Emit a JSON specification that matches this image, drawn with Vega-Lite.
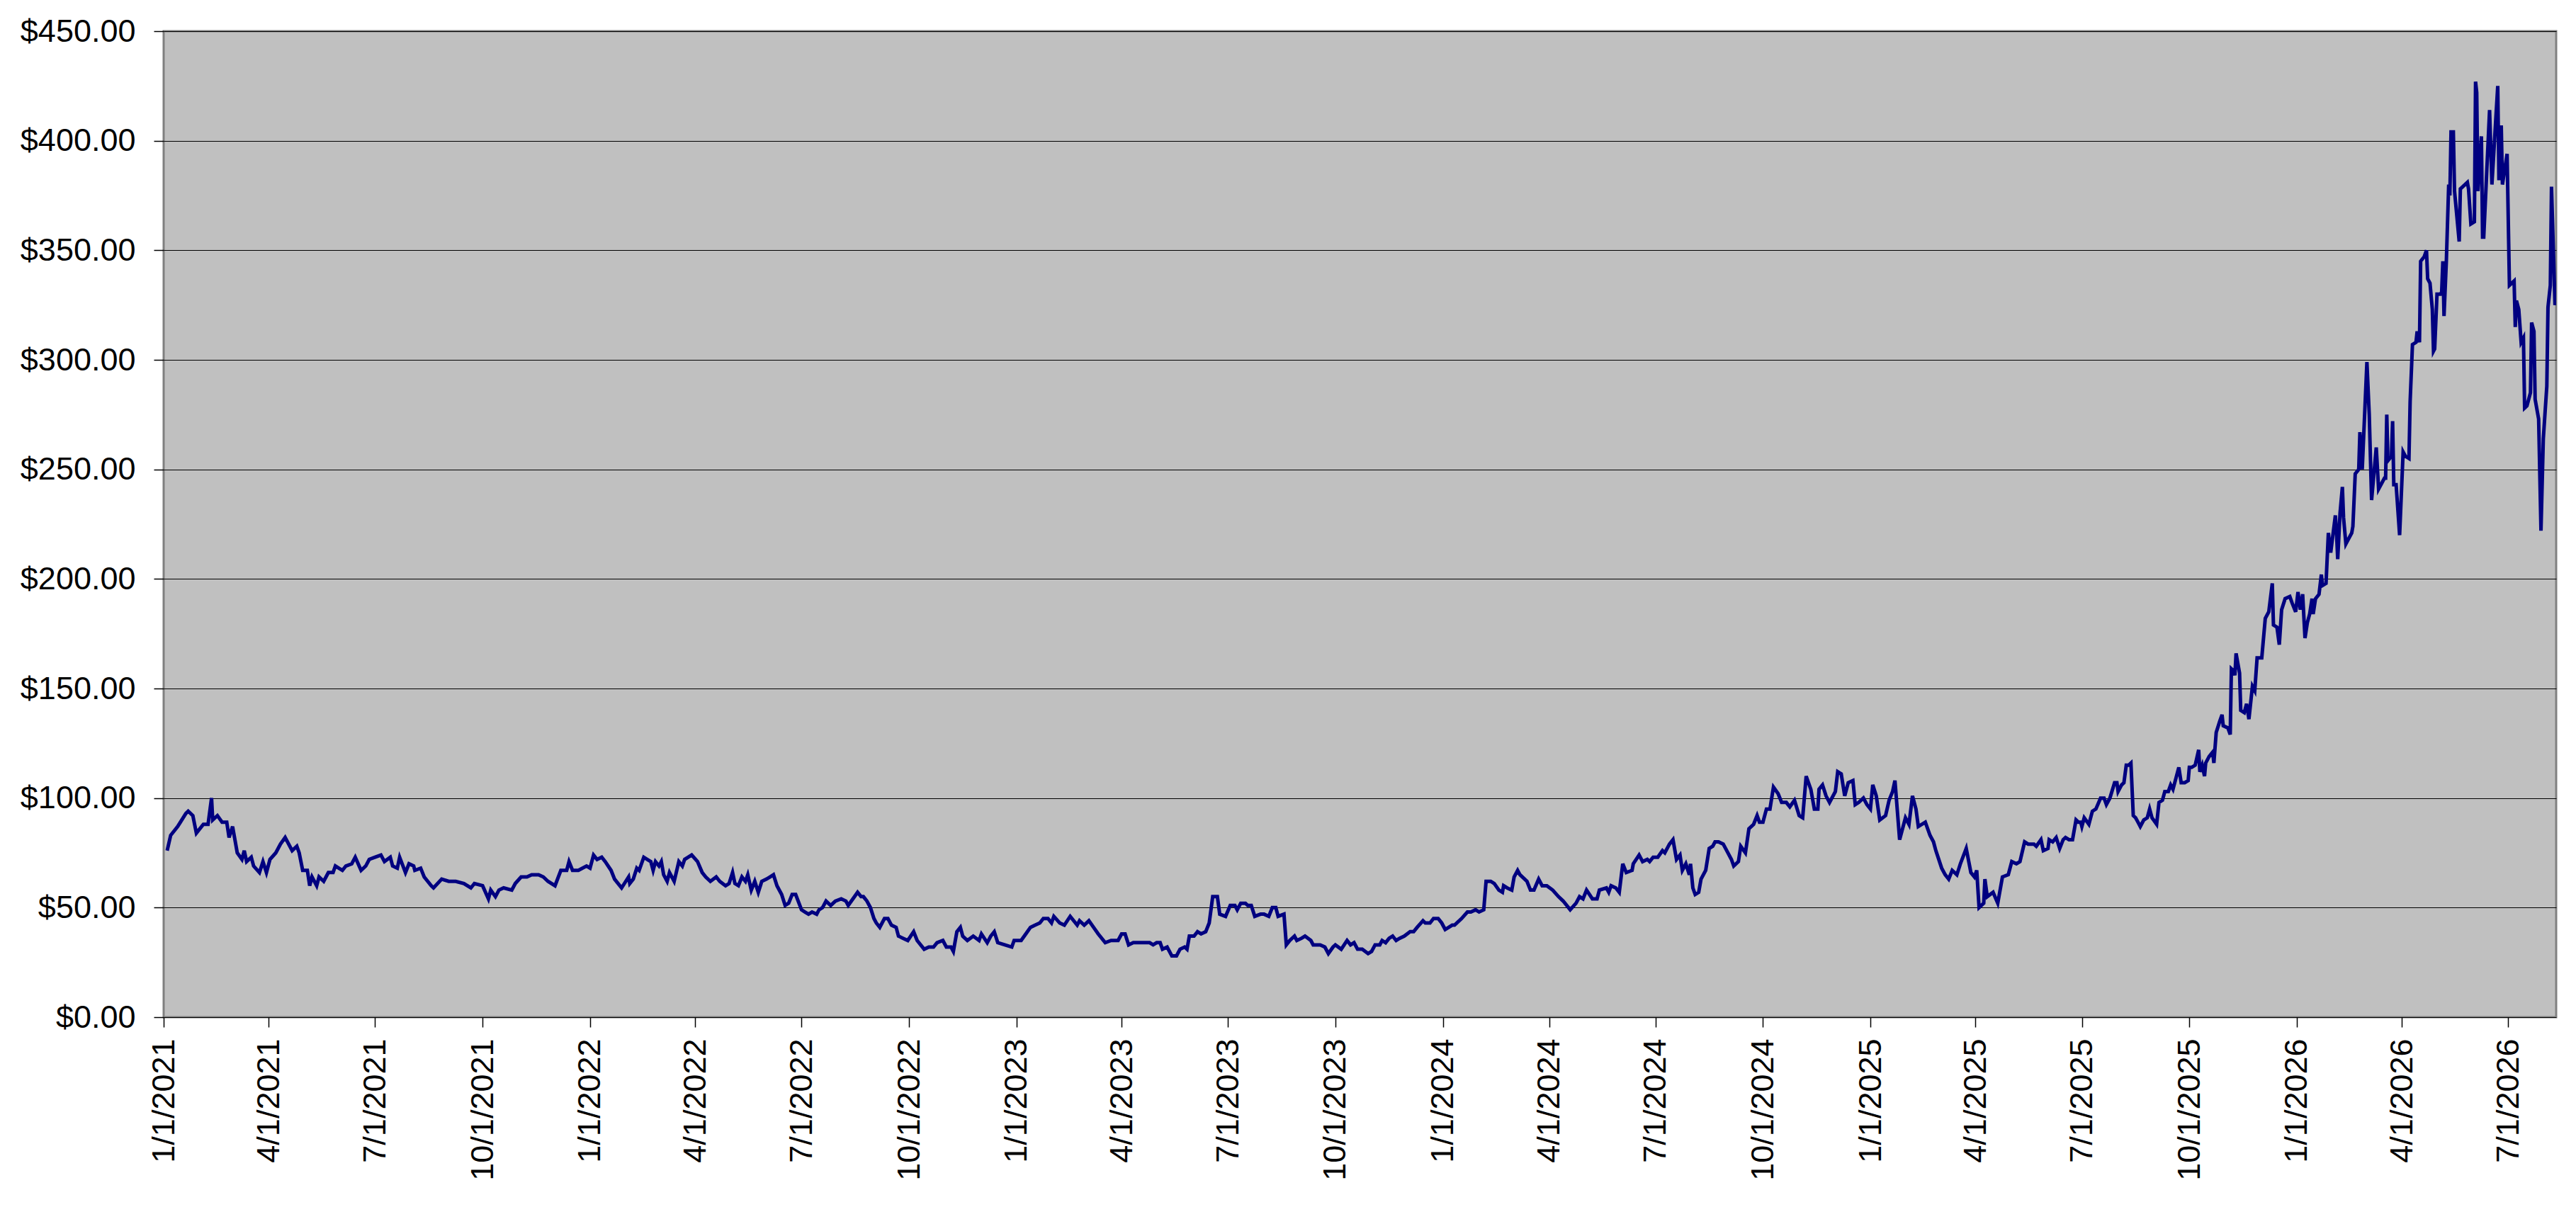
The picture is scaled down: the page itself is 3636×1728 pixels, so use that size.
{
"$schema": "https://vega.github.io/schema/vega-lite/v6.json",
"width": 3377,
"height": 1392,
"autosize": {"type": "none"},
"padding": {"left": 231, "top": 44, "right": 28, "bottom": 292},
"background": "white",
"config": {
  "view": {"fill": "#C0C0C0", "stroke": "#808080", "strokeWidth": 3},
  "font": "Liberation Sans",
  "axis": {"labelFont": "Liberation Sans", "labelColor": "black", "labelFontSize": 45, "labelLimit": 0, "tickColor": "black", "tickSize": 14, "tickWidth": 1.5, "domain": false, "title": null, "labelOverlap": false, "labelFlush": false}
},
"data": {"values": [
{"date":"2021-01-04","price":76},{"date":"2021-01-07","price":83},{"date":"2021-01-13","price":87},{"date":"2021-01-20","price":93},{"date":"2021-01-22","price":94},{"date":"2021-01-26","price":92},{"date":"2021-01-29","price":84},{"date":"2021-02-04","price":88},{"date":"2021-02-08","price":88},{"date":"2021-02-11","price":100},{"date":"2021-02-12","price":90},{"date":"2021-02-16","price":92},{"date":"2021-02-20","price":89},{"date":"2021-02-24","price":89},{"date":"2021-02-26","price":82},{"date":"2021-03-01","price":87},{"date":"2021-03-05","price":75},{"date":"2021-03-09","price":72},{"date":"2021-03-11","price":76},{"date":"2021-03-13","price":71},{"date":"2021-03-17","price":73},{"date":"2021-03-19","price":69},{"date":"2021-03-24","price":66},{"date":"2021-03-27","price":71},{"date":"2021-03-30","price":66},
{"date":"2021-04-02","price":72},{"date":"2021-04-07","price":75},{"date":"2021-04-11","price":79},{"date":"2021-04-15","price":82},{"date":"2021-04-21","price":76},{"date":"2021-04-25","price":78},{"date":"2021-04-27","price":75},{"date":"2021-04-30","price":67},{"date":"2021-05-04","price":67},{"date":"2021-05-06","price":60},{"date":"2021-05-08","price":64},{"date":"2021-05-12","price":60},{"date":"2021-05-14","price":64},{"date":"2021-05-18","price":62},{"date":"2021-05-22","price":66},{"date":"2021-05-26","price":66},{"date":"2021-05-28","price":69},{"date":"2021-06-03","price":67},{"date":"2021-06-06","price":69},{"date":"2021-06-11","price":70},{"date":"2021-06-14","price":73},{"date":"2021-06-19","price":67},{"date":"2021-06-23","price":69},{"date":"2021-06-26","price":72},
{"date":"2021-07-01","price":73},{"date":"2021-07-06","price":74},{"date":"2021-07-09","price":71},{"date":"2021-07-14","price":73},{"date":"2021-07-16","price":69},{"date":"2021-07-20","price":68},{"date":"2021-07-22","price":73},{"date":"2021-07-27","price":66},{"date":"2021-07-30","price":70},{"date":"2021-08-03","price":69},{"date":"2021-08-04","price":67},{"date":"2021-08-09","price":68},{"date":"2021-08-12","price":64},{"date":"2021-08-18","price":60},{"date":"2021-08-20","price":59},{"date":"2021-08-27","price":63},{"date":"2021-09-02","price":62},{"date":"2021-09-08","price":62},{"date":"2021-09-15","price":61},{"date":"2021-09-21","price":59},{"date":"2021-09-24","price":61},
{"date":"2021-10-01","price":60},{"date":"2021-10-06","price":54},{"date":"2021-10-08","price":58},{"date":"2021-10-12","price":55},{"date":"2021-10-15","price":58},{"date":"2021-10-19","price":59},{"date":"2021-10-26","price":58},{"date":"2021-10-29","price":61},{"date":"2021-11-03","price":64},{"date":"2021-11-08","price":64},{"date":"2021-11-12","price":65},{"date":"2021-11-18","price":65},{"date":"2021-11-22","price":64},{"date":"2021-11-26","price":62},{"date":"2021-12-02","price":60},{"date":"2021-12-07","price":67},{"date":"2021-12-12","price":67},{"date":"2021-12-14","price":71},{"date":"2021-12-17","price":67},{"date":"2021-12-22","price":67},{"date":"2021-12-29","price":69},
{"date":"2022-01-01","price":68},{"date":"2022-01-04","price":74},{"date":"2022-01-07","price":72},{"date":"2022-01-11","price":73},{"date":"2022-01-14","price":71},{"date":"2022-01-19","price":67},{"date":"2022-01-22","price":63},{"date":"2022-01-28","price":59},{"date":"2022-02-03","price":64},{"date":"2022-02-04","price":61},{"date":"2022-02-07","price":63},{"date":"2022-02-10","price":68},{"date":"2022-02-12","price":67},{"date":"2022-02-16","price":73},{"date":"2022-02-19","price":72},{"date":"2022-02-22","price":71},{"date":"2022-02-24","price":67},{"date":"2022-02-26","price":71},{"date":"2022-03-01","price":69},{"date":"2022-03-03","price":71},{"date":"2022-03-05","price":65},{"date":"2022-03-08","price":62},{"date":"2022-03-10","price":66},{"date":"2022-03-14","price":62},{"date":"2022-03-18","price":71},{"date":"2022-03-21","price":69},{"date":"2022-03-23","price":72},{"date":"2022-03-26","price":73},{"date":"2022-03-29","price":74},
{"date":"2022-04-03","price":71},{"date":"2022-04-07","price":66},{"date":"2022-04-10","price":64},{"date":"2022-04-14","price":62},{"date":"2022-04-19","price":64},{"date":"2022-04-22","price":62},{"date":"2022-04-27","price":60},{"date":"2022-04-30","price":61},{"date":"2022-05-03","price":66},{"date":"2022-05-05","price":61},{"date":"2022-05-08","price":60},{"date":"2022-05-11","price":64},{"date":"2022-05-14","price":62},{"date":"2022-05-16","price":65},{"date":"2022-05-19","price":58},{"date":"2022-05-22","price":62},{"date":"2022-05-25","price":57},{"date":"2022-05-28","price":62},{"date":"2022-06-01","price":63},{"date":"2022-06-04","price":64},{"date":"2022-06-07","price":65},{"date":"2022-06-10","price":60},{"date":"2022-06-14","price":56},{"date":"2022-06-17","price":51},{"date":"2022-06-20","price":52},{"date":"2022-06-23","price":56},{"date":"2022-06-26","price":56},
{"date":"2022-07-01","price":49},{"date":"2022-07-04","price":48},{"date":"2022-07-07","price":47},{"date":"2022-07-10","price":48},{"date":"2022-07-14","price":47},{"date":"2022-07-16","price":49},{"date":"2022-07-19","price":50},{"date":"2022-07-22","price":53},{"date":"2022-07-26","price":51},{"date":"2022-07-30","price":53},{"date":"2022-08-04","price":54},{"date":"2022-08-08","price":53},{"date":"2022-08-10","price":51},{"date":"2022-08-14","price":54},{"date":"2022-08-18","price":57},{"date":"2022-08-21","price":55},{"date":"2022-08-23","price":55},{"date":"2022-08-26","price":53},{"date":"2022-08-29","price":50},{"date":"2022-09-01","price":45},{"date":"2022-09-03","price":43},{"date":"2022-09-06","price":41},{"date":"2022-09-10","price":45},{"date":"2022-09-13","price":45},{"date":"2022-09-16","price":42},{"date":"2022-09-20","price":41},{"date":"2022-09-22","price":37},{"date":"2022-09-26","price":36},{"date":"2022-09-30","price":35},
{"date":"2022-10-05","price":39},{"date":"2022-10-08","price":35},{"date":"2022-10-14","price":31},{"date":"2022-10-18","price":32},{"date":"2022-10-22","price":32},{"date":"2022-10-25","price":34},{"date":"2022-10-30","price":35},{"date":"2022-11-02","price":32},{"date":"2022-11-06","price":32},{"date":"2022-11-08","price":30},{"date":"2022-11-11","price":39},{"date":"2022-11-14","price":41},{"date":"2022-11-16","price":37},{"date":"2022-11-20","price":35},{"date":"2022-11-25","price":37},{"date":"2022-11-30","price":35},{"date":"2022-12-02","price":38},{"date":"2022-12-07","price":34},{"date":"2022-12-10","price":37},{"date":"2022-12-13","price":39},{"date":"2022-12-16","price":34},{"date":"2022-12-22","price":33},{"date":"2022-12-28","price":32},{"date":"2022-12-30","price":35},
{"date":"2023-01-05","price":35},{"date":"2023-01-09","price":38},{"date":"2023-01-13","price":41},{"date":"2023-01-17","price":42},{"date":"2023-01-21","price":43},{"date":"2023-01-24","price":45},{"date":"2023-01-28","price":45},{"date":"2023-01-31","price":43},{"date":"2023-02-02","price":46},{"date":"2023-02-07","price":43},{"date":"2023-02-11","price":42},{"date":"2023-02-16","price":46},{"date":"2023-02-22","price":42},{"date":"2023-02-24","price":44},{"date":"2023-02-28","price":42},{"date":"2023-03-04","price":44},{"date":"2023-03-08","price":41},{"date":"2023-03-12","price":38},{"date":"2023-03-18","price":34},{"date":"2023-03-23","price":35},{"date":"2023-03-29","price":35},
{"date":"2023-04-01","price":38},{"date":"2023-04-04","price":38},{"date":"2023-04-07","price":33},{"date":"2023-04-11","price":34},{"date":"2023-04-17","price":34},{"date":"2023-04-22","price":34},{"date":"2023-04-25","price":34},{"date":"2023-04-28","price":33},{"date":"2023-05-01","price":34},{"date":"2023-05-04","price":34},{"date":"2023-05-06","price":31},{"date":"2023-05-10","price":32},{"date":"2023-05-14","price":28},{"date":"2023-05-18","price":28},{"date":"2023-05-21","price":31},{"date":"2023-05-25","price":32},{"date":"2023-05-27","price":31},{"date":"2023-05-29","price":37},{"date":"2023-06-02","price":37},{"date":"2023-06-05","price":39},{"date":"2023-06-08","price":38},{"date":"2023-06-12","price":39},{"date":"2023-06-15","price":43},{"date":"2023-06-18","price":55},{"date":"2023-06-22","price":55},{"date":"2023-06-24","price":47},{"date":"2023-06-29","price":46},
{"date":"2023-07-03","price":51},{"date":"2023-07-07","price":51},{"date":"2023-07-09","price":49},{"date":"2023-07-12","price":52},{"date":"2023-07-16","price":52},{"date":"2023-07-18","price":51},{"date":"2023-07-21","price":51},{"date":"2023-07-24","price":46},{"date":"2023-07-29","price":47},{"date":"2023-08-01","price":47},{"date":"2023-08-05","price":46},{"date":"2023-08-08","price":50},{"date":"2023-08-11","price":50},{"date":"2023-08-13","price":46},{"date":"2023-08-18","price":47},{"date":"2023-08-20","price":33},{"date":"2023-08-23","price":35},{"date":"2023-08-27","price":37},{"date":"2023-08-29","price":35},{"date":"2023-09-02","price":36},{"date":"2023-09-05","price":37},{"date":"2023-09-10","price":35},{"date":"2023-09-12","price":33},{"date":"2023-09-18","price":33},{"date":"2023-09-22","price":32},{"date":"2023-09-25","price":29},{"date":"2023-09-29","price":32},
{"date":"2023-10-01","price":33},{"date":"2023-10-06","price":31},{"date":"2023-10-11","price":35},{"date":"2023-10-14","price":33},{"date":"2023-10-17","price":34},{"date":"2023-10-20","price":31},{"date":"2023-10-24","price":31},{"date":"2023-10-29","price":29},{"date":"2023-11-01","price":30},{"date":"2023-11-04","price":33},{"date":"2023-11-08","price":33},{"date":"2023-11-10","price":35},{"date":"2023-11-13","price":34},{"date":"2023-11-16","price":36},{"date":"2023-11-19","price":37},{"date":"2023-11-22","price":35},{"date":"2023-11-25","price":36},{"date":"2023-11-29","price":37},{"date":"2023-12-04","price":39},{"date":"2023-12-07","price":39},{"date":"2023-12-10","price":41},{"date":"2023-12-15","price":44},{"date":"2023-12-17","price":43},{"date":"2023-12-21","price":43},{"date":"2023-12-24","price":45},{"date":"2023-12-28","price":45},{"date":"2023-12-31","price":43},
{"date":"2024-01-03","price":40},{"date":"2024-01-09","price":42},{"date":"2024-01-11","price":42},{"date":"2024-01-17","price":45},{"date":"2024-01-22","price":48},{"date":"2024-01-25","price":48},{"date":"2024-01-29","price":49},{"date":"2024-02-01","price":48},{"date":"2024-02-05","price":49},{"date":"2024-02-07","price":62},{"date":"2024-02-11","price":62},{"date":"2024-02-14","price":61},{"date":"2024-02-18","price":58},{"date":"2024-02-21","price":57},{"date":"2024-02-22","price":60},{"date":"2024-02-25","price":59},{"date":"2024-02-29","price":58},{"date":"2024-03-02","price":64},{"date":"2024-03-05","price":67},{"date":"2024-03-07","price":65},{"date":"2024-03-13","price":62},{"date":"2024-03-16","price":58},{"date":"2024-03-19","price":58},{"date":"2024-03-23","price":63},{"date":"2024-03-26","price":60},{"date":"2024-03-30","price":60},
{"date":"2024-04-04","price":58},{"date":"2024-04-09","price":55},{"date":"2024-04-13","price":53},{"date":"2024-04-19","price":49},{"date":"2024-04-24","price":52},{"date":"2024-04-27","price":55},{"date":"2024-04-30","price":54},{"date":"2024-05-03","price":58},{"date":"2024-05-08","price":54},{"date":"2024-05-12","price":54},{"date":"2024-05-14","price":58},{"date":"2024-05-20","price":59},{"date":"2024-05-22","price":57},{"date":"2024-05-24","price":60},{"date":"2024-05-28","price":59},{"date":"2024-05-31","price":57},{"date":"2024-06-03","price":70},{"date":"2024-06-06","price":66},{"date":"2024-06-11","price":67},{"date":"2024-06-12","price":70},{"date":"2024-06-17","price":74},{"date":"2024-06-20","price":71},{"date":"2024-06-24","price":72},{"date":"2024-06-26","price":71},{"date":"2024-06-29","price":73},
{"date":"2024-07-03","price":73},{"date":"2024-07-07","price":76},{"date":"2024-07-09","price":75},{"date":"2024-07-13","price":79},{"date":"2024-07-16","price":81},{"date":"2024-07-19","price":72},{"date":"2024-07-22","price":74},{"date":"2024-07-24","price":67},{"date":"2024-07-27","price":70},{"date":"2024-07-30","price":65},{"date":"2024-07-31","price":70},{"date":"2024-08-02","price":59},{"date":"2024-08-04","price":56},{"date":"2024-08-07","price":57},{"date":"2024-08-09","price":63},{"date":"2024-08-13","price":67},{"date":"2024-08-16","price":77},{"date":"2024-08-19","price":78},{"date":"2024-08-21","price":80},{"date":"2024-08-24","price":80},{"date":"2024-08-28","price":79},{"date":"2024-08-31","price":76},{"date":"2024-09-04","price":72},{"date":"2024-09-06","price":69},{"date":"2024-09-10","price":71},{"date":"2024-09-12","price":78},{"date":"2024-09-16","price":75},{"date":"2024-09-19","price":86},{"date":"2024-09-23","price":88},{"date":"2024-09-26","price":92},{"date":"2024-09-28","price":89},
{"date":"2024-10-01","price":89},{"date":"2024-10-04","price":95},{"date":"2024-10-07","price":95},{"date":"2024-10-10","price":105},{"date":"2024-10-14","price":102},{"date":"2024-10-17","price":98},{"date":"2024-10-21","price":98},{"date":"2024-10-24","price":96},{"date":"2024-10-28","price":99},{"date":"2024-11-01","price":92},{"date":"2024-11-04","price":91},{"date":"2024-11-07","price":110},{"date":"2024-11-11","price":104},{"date":"2024-11-14","price":95},{"date":"2024-11-17","price":95},{"date":"2024-11-18","price":104},{"date":"2024-11-21","price":106},{"date":"2024-11-24","price":101},{"date":"2024-11-27","price":98},{"date":"2024-12-02","price":103},{"date":"2024-12-04","price":112},{"date":"2024-12-07","price":111},{"date":"2024-12-10","price":101},{"date":"2024-12-13","price":107},{"date":"2024-12-17","price":108},{"date":"2024-12-19","price":97},{"date":"2024-12-22","price":98},{"date":"2024-12-26","price":100},{"date":"2024-12-29","price":97},
{"date":"2025-01-01","price":95},{"date":"2025-01-03","price":106},{"date":"2025-01-06","price":101},{"date":"2025-01-09","price":90},{"date":"2025-01-14","price":92},{"date":"2025-01-17","price":99},{"date":"2025-01-20","price":103},{"date":"2025-01-22","price":108},{"date":"2025-01-26","price":81},{"date":"2025-01-31","price":91},{"date":"2025-02-03","price":88},{"date":"2025-02-06","price":101},{"date":"2025-02-09","price":95},{"date":"2025-02-11","price":87},{"date":"2025-02-17","price":89},{"date":"2025-02-21","price":83},{"date":"2025-02-24","price":80},{"date":"2025-02-26","price":76},{"date":"2025-03-03","price":68},{"date":"2025-03-06","price":65},{"date":"2025-03-09","price":63},{"date":"2025-03-12","price":67},{"date":"2025-03-16","price":65},{"date":"2025-03-19","price":70},{"date":"2025-03-24","price":77},{"date":"2025-03-28","price":66},{"date":"2025-03-31","price":64},
{"date":"2025-04-02","price":67},{"date":"2025-04-04","price":50},{"date":"2025-04-08","price":52},{"date":"2025-04-09","price":63},{"date":"2025-04-11","price":55},{"date":"2025-04-16","price":57},{"date":"2025-04-20","price":52},{"date":"2025-04-24","price":64},{"date":"2025-04-29","price":65},{"date":"2025-05-02","price":71},{"date":"2025-05-06","price":70},{"date":"2025-05-09","price":71},{"date":"2025-05-13","price":80},{"date":"2025-05-16","price":79},{"date":"2025-05-21","price":79},{"date":"2025-05-23","price":78},{"date":"2025-05-27","price":81},{"date":"2025-05-29","price":76},{"date":"2025-06-02","price":77},{"date":"2025-06-03","price":81},{"date":"2025-06-06","price":80},{"date":"2025-06-09","price":82},{"date":"2025-06-12","price":77},{"date":"2025-06-15","price":81},{"date":"2025-06-17","price":82},{"date":"2025-06-20","price":81},{"date":"2025-06-23","price":81},{"date":"2025-06-26","price":90},{"date":"2025-06-28","price":89},{"date":"2025-06-30","price":89},
{"date":"2025-07-01","price":87},{"date":"2025-07-03","price":91},{"date":"2025-07-07","price":88},{"date":"2025-07-10","price":94},{"date":"2025-07-13","price":95},{"date":"2025-07-17","price":100},{"date":"2025-07-20","price":100},{"date":"2025-07-22","price":97},{"date":"2025-07-25","price":100},{"date":"2025-07-29","price":107},{"date":"2025-07-31","price":107},{"date":"2025-08-01","price":103},{"date":"2025-08-04","price":106},{"date":"2025-08-06","price":107},{"date":"2025-08-08","price":115},{"date":"2025-08-10","price":115},{"date":"2025-08-12","price":116},{"date":"2025-08-14","price":92},{"date":"2025-08-16","price":91},{"date":"2025-08-18","price":89},{"date":"2025-08-20","price":87},{"date":"2025-08-23","price":90},{"date":"2025-08-26","price":91},{"date":"2025-08-28","price":95},{"date":"2025-08-30","price":91},{"date":"2025-09-03","price":88},{"date":"2025-09-05","price":98},{"date":"2025-09-08","price":99},{"date":"2025-09-10","price":103},{"date":"2025-09-13","price":103},{"date":"2025-09-15","price":106},{"date":"2025-09-17","price":104},{"date":"2025-09-19","price":108},{"date":"2025-09-22","price":114},{"date":"2025-09-24","price":107},{"date":"2025-09-27","price":107},{"date":"2025-09-30","price":108},
{"date":"2025-10-01","price":114},{"date":"2025-10-03","price":114},{"date":"2025-10-06","price":115},{"date":"2025-10-09","price":122},{"date":"2025-10-10","price":112},{"date":"2025-10-12","price":115},{"date":"2025-10-14","price":110},{"date":"2025-10-15","price":116},{"date":"2025-10-18","price":119},{"date":"2025-10-21","price":121},{"date":"2025-10-22","price":116},{"date":"2025-10-24","price":130},{"date":"2025-10-27","price":135},{"date":"2025-10-29","price":138},{"date":"2025-10-30","price":133},{"date":"2025-11-03","price":132},{"date":"2025-11-05","price":129},{"date":"2025-11-06","price":159},{"date":"2025-11-08","price":158},{"date":"2025-11-09","price":156},{"date":"2025-11-10","price":166},{"date":"2025-11-13","price":157},{"date":"2025-11-14","price":140},{"date":"2025-11-17","price":139},{"date":"2025-11-19","price":143},{"date":"2025-11-21","price":136},{"date":"2025-11-24","price":151},{"date":"2025-11-26","price":149},{"date":"2025-11-28","price":164},{"date":"2025-12-02","price":164},{"date":"2025-12-05","price":182},{"date":"2025-12-08","price":185},{"date":"2025-12-11","price":198},{"date":"2025-12-12","price":179},{"date":"2025-12-15","price":178},{"date":"2025-12-17","price":170},{"date":"2025-12-19","price":186},{"date":"2025-12-22","price":191},{"date":"2025-12-26","price":192},{"date":"2025-12-28","price":189},{"date":"2025-12-31","price":185},
{"date":"2026-01-02","price":194},{"date":"2026-01-04","price":186},{"date":"2026-01-06","price":193},{"date":"2026-01-08","price":173},{"date":"2026-01-10","price":180},{"date":"2026-01-12","price":184},{"date":"2026-01-14","price":191},{"date":"2026-01-15","price":184},{"date":"2026-01-17","price":191},{"date":"2026-01-20","price":193},{"date":"2026-01-22","price":202},{"date":"2026-01-23","price":197},{"date":"2026-01-26","price":198},{"date":"2026-01-28","price":221},{"date":"2026-01-30","price":212},{"date":"2026-02-03","price":229},{"date":"2026-02-04","price":221},{"date":"2026-02-05","price":209},{"date":"2026-02-07","price":230},{"date":"2026-02-09","price":242},{"date":"2026-02-10","price":228},{"date":"2026-02-12","price":216},{"date":"2026-02-17","price":221},{"date":"2026-02-18","price":224},{"date":"2026-02-20","price":248},{"date":"2026-02-23","price":250},{"date":"2026-02-24","price":267},{"date":"2026-02-26","price":250},{"date":"2026-03-02","price":299},{"date":"2026-03-04","price":275},{"date":"2026-03-06","price":236},{"date":"2026-03-10","price":260},{"date":"2026-03-12","price":241},{"date":"2026-03-17","price":246},{"date":"2026-03-18","price":246},{"date":"2026-03-19","price":275},{"date":"2026-03-20","price":254},{"date":"2026-03-23","price":256},{"date":"2026-03-24","price":272},{"date":"2026-03-25","price":243},{"date":"2026-03-27","price":243},{"date":"2026-03-30","price":220},
{"date":"2026-04-02","price":258},{"date":"2026-04-04","price":256},{"date":"2026-04-07","price":255},{"date":"2026-04-08","price":281},{"date":"2026-04-10","price":307},{"date":"2026-04-13","price":308},{"date":"2026-04-14","price":313},{"date":"2026-04-16","price":308},{"date":"2026-04-17","price":345},{"date":"2026-04-20","price":347},{"date":"2026-04-22","price":350},{"date":"2026-04-23","price":337},{"date":"2026-04-25","price":335},{"date":"2026-04-27","price":323},{"date":"2026-04-28","price":304},{"date":"2026-04-29","price":305},{"date":"2026-05-01","price":330},{"date":"2026-05-04","price":330},{"date":"2026-05-05","price":331},{"date":"2026-05-06","price":345},{"date":"2026-05-07","price":320},{"date":"2026-05-09","price":345},{"date":"2026-05-11","price":380},{"date":"2026-05-12","price":375},{"date":"2026-05-13","price":404},{"date":"2026-05-15","price":404},{"date":"2026-05-16","price":377},{"date":"2026-05-20","price":354},{"date":"2026-05-21","price":378},{"date":"2026-05-23","price":379},{"date":"2026-05-27","price":381},{"date":"2026-05-28","price":378},{"date":"2026-05-30","price":362},{"date":"2026-06-02","price":363},{"date":"2026-06-03","price":427},{"date":"2026-06-04","price":422},{"date":"2026-06-05","price":377},{"date":"2026-06-08","price":402},{"date":"2026-06-09","price":356},{"date":"2026-06-10","price":356},{"date":"2026-06-15","price":414},{"date":"2026-06-17","price":380},{"date":"2026-06-22","price":425},{"date":"2026-06-23","price":382},{"date":"2026-06-25","price":407},{"date":"2026-06-26","price":380},{"date":"2026-06-30","price":394},
{"date":"2026-07-02","price":334},{"date":"2026-07-06","price":336},{"date":"2026-07-07","price":315},{"date":"2026-07-08","price":327},{"date":"2026-07-10","price":323},{"date":"2026-07-12","price":308},{"date":"2026-07-14","price":310},{"date":"2026-07-15","price":278},{"date":"2026-07-17","price":279},{"date":"2026-07-20","price":285},{"date":"2026-07-21","price":317},{"date":"2026-07-23","price":313},{"date":"2026-07-24","price":282},{"date":"2026-07-27","price":273},{"date":"2026-07-29","price":222},{"date":"2026-07-31","price":264},{"date":"2026-08-03","price":288},{"date":"2026-08-04","price":324},{"date":"2026-08-06","price":334},{"date":"2026-08-07","price":379},{"date":"2026-08-10","price":325},{"date":"2026-08-11","price":329}
]},
"mark": {"type": "line", "color": "#000080", "strokeWidth": 5, "clip": true},
"encoding": {
  "x": {
    "field": "date", "type": "temporal",
    "scale": {"type": "utc", "nice": false, "domain": [{"year": 2021, "month": 1, "date": 1, "utc": true}, {"year": 2026, "month": 8, "date": 11, "utc": true}]},
    "axis": {
      "values": [
        {"year": 2021, "month": 1, "date": 1, "utc": true}, {"year": 2021, "month": 4, "date": 1, "utc": true}, {"year": 2021, "month": 7, "date": 1, "utc": true}, {"year": 2021, "month": 10, "date": 1, "utc": true},
        {"year": 2022, "month": 1, "date": 1, "utc": true}, {"year": 2022, "month": 4, "date": 1, "utc": true}, {"year": 2022, "month": 7, "date": 1, "utc": true}, {"year": 2022, "month": 10, "date": 1, "utc": true},
        {"year": 2023, "month": 1, "date": 1, "utc": true}, {"year": 2023, "month": 4, "date": 1, "utc": true}, {"year": 2023, "month": 7, "date": 1, "utc": true}, {"year": 2023, "month": 10, "date": 1, "utc": true},
        {"year": 2024, "month": 1, "date": 1, "utc": true}, {"year": 2024, "month": 4, "date": 1, "utc": true}, {"year": 2024, "month": 7, "date": 1, "utc": true}, {"year": 2024, "month": 10, "date": 1, "utc": true},
        {"year": 2025, "month": 1, "date": 1, "utc": true}, {"year": 2025, "month": 4, "date": 1, "utc": true}, {"year": 2025, "month": 7, "date": 1, "utc": true}, {"year": 2025, "month": 10, "date": 1, "utc": true},
        {"year": 2026, "month": 1, "date": 1, "utc": true}, {"year": 2026, "month": 4, "date": 1, "utc": true}, {"year": 2026, "month": 7, "date": 1, "utc": true}
      ],
      "labelExpr": "utcFormat(datum.value, '%-m/%-d/%Y')",
      "labelAngle": -90, "labelPadding": 16, "grid": false
    }
  },
  "y": {
    "field": "price", "type": "quantitative",
    "scale": {"domain": [0, 450], "nice": false},
    "axis": {
      "values": [0, 50, 100, 150, 200, 250, 300, 350, 400, 450],
      "format": "$.2f", "labelPadding": 26,
      "grid": true, "gridColor": "black", "gridWidth": 1.2
    }
  }
}
}
